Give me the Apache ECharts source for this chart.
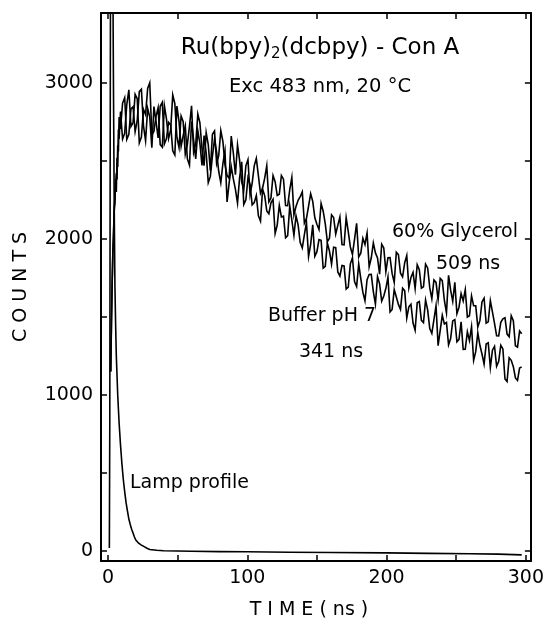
<!DOCTYPE html>
<html>
<head>
<meta charset="utf-8">
<script src="https://cdn.jsdelivr.net/npm/echarts@6/dist/echarts.min.js"></script>
<style>html,body{margin:0;padding:0;background:#fff}#c{width:547px;height:625px}</style>
</head>
<body>
<div id="c"></div>
<script>
// ---- data ----
const decayTime = [2,2.5,3,3.5,4,4.5,5,5.5,6,6.5,7,7.5,8,
  9,10.5,12,13.5,15,16.5,18,19.5,21,22.5,24,25.5,27,28.5,30,31.5,33,34.5,36,37.5,39,40.5,42,43.5,45,46.5,48,49.5,
  51,52.5,54,55.5,57,58.5,60,61.5,63,64.5,66,67.5,69,70.5,72,73.5,75,76.5,78,79.5,81,82.5,84,85.5,87,88.5,90,91.5,93,94.5,96,97.5,99,100.5,
  102,103.5,105,106.5,108,109.5,111,112.5,114,115.5,117,118.5,120,121.5,123,124.5,126,127.5,129,130.5,132,133.5,135,136.5,138,139.5,141,142.5,144,145.5,147,148.5,150,151.5,
  153,154.5,156,157.5,159,160.5,162,163.5,165,166.5,168,169.5,171,172.5,174,175.5,177,178.5,180,181.5,183,184.5,186,187.5,189,190.5,192,193.5,195,196.5,198,199.5,
  201,202.5,204,205.5,207,208.5,210,211.5,213,214.5,216,217.5,219,220.5,222,223.5,225,226.5,228,229.5,231,232.5,234,235.5,237,238.5,240,241.5,243,244.5,246,247.5,249,250.5,
  252,253.5,255,256.5,258,259.5,261,262.5,264,265.5,267,268.5,270,271.5,273,274.5,276,277.5,279,280.5,282,283.5,285,286.5,288,289.5,291,292.5,294,295.5,297];
const glycerolCounts = [1150,1480,1720,1900,2050,2180,2230,2380,2300,2520,2460,2700,2640,
  2815,2640,2676,2860,2955,2720,2744,2926,2898,2615,2652,2829,2796,2963,3000,2665,2690,2785,2840,2604,2588,2853,2768,2643,2698,2922,2867,2651,
  2585,2787,2750,2543,2606,2719,2852,2555,2608,2800,2743,2576,2469,2681,2604,2437,2670,2691,2482,2533,2694,2625,2476,2407,2388,2659,2550,2411,2602,2503,2364,2315,2468,2508,
  2284,2356,2468,2516,2404,2292,2325,2389,2469,2237,2261,2405,2366,2278,2286,2406,2382,2213,2212,2315,2394,2153,2208,2247,2270,2301,2100,2131,2210,2289,2240,2135,2094,2060,
  2227,2177,2096,1982,2004,2154,2137,2031,2086,2140,1963,1961,2136,2046,1948,1900,1996,2100,1884,1908,2004,1964,2037,1821,1877,1974,1910,1878,1774,1966,1942,1790,
  1879,1880,1777,1721,1914,1899,1780,1757,1846,1894,1687,1752,1785,1681,1834,1803,1684,1693,1838,1814,1687,1616,1737,1721,1610,1747,1732,1605,1526,1766,1671,1600,1721,1521,
  1562,1650,1602,1674,1499,1507,1635,1571,1571,1436,1476,1596,1620,1460,1468,1604,1532,1459,1379,1378,1465,1488,1495,1390,1373,1508,1476,1315,1306,1409,1392];
const bufferCounts = [1150,1450,1700,1920,2010,2200,2260,2350,2420,2380,2600,2560,2780,
  2705,2870,2904,2637,2670,2833,2846,2687,2757,2943,2958,2724,2629,2835,2780,2584,2848,2752,2646,2850,2874,2608,2642,2746,2730,2564,2538,2851,
  2753,2593,2663,2723,2512,2472,2752,2632,2512,2692,2611,2471,2661,2551,2360,2400,2530,2638,2555,2433,2360,2482,2564,2237,2359,2462,2384,2317,2229,2391,2494,2221,2250,2391,
  2348,2218,2232,2278,2148,2114,2319,2277,2179,2161,2231,2253,2034,2088,2214,2140,2145,2007,2021,2211,2120,2022,2148,2090,1976,1942,2027,2105,1887,1965,2090,1888,1918,1995,
  1991,1812,1824,1973,1922,1839,1947,1944,1788,1761,1829,1826,1678,1691,1840,1879,1726,1695,1840,1745,1658,1603,1739,1772,1773,1662,1582,1759,1712,1601,1634,1683,
  1755,1532,1548,1676,1628,1580,1548,1684,1668,1493,1565,1581,1461,1414,1590,1598,1478,1463,1608,1545,1425,1394,1483,1572,1316,1413,1510,1455,1464,1321,1361,1474,1483,1340,
  1356,1468,1292,1293,1405,1349,1437,1221,1277,1398,1318,1262,1198,1326,1334,1175,1287,1311,1183,1215,1319,1295,1102,1086,1238,1222,1181,1109,1093,1173,1180];
const lampTime = [1,1.3,1.6,2,2.5,3,3.5,4,4.5,5,5.5,6,7,8,9,10,11,12,13,14,15,16,17,18,19,20,22,24,26,28,30,35,40,50,60,80,100,130,160,200,230,260,280,297];
const lampCounts = [20,800,2600,4500,5200,4700,3700,2900,2200,1700,1450,1250,1000,820,680,560,460,380,310,255,205,170,140,115,90,70,50,38,28,18,10,5,2,0,-2,-4,-5,-8,-10,-12,-15,-18,-20,-25];
const xTickValues = [0,50,100,150,200,250,300];
const xLabelValues = [0,100,200,300];
const yTickValues = [0,500,1000,1500,2000,2500,3000];
const yLabelValues = [0,1000,2000,3000];

const zip = (a, b) => a.map((v, i) => [v, b[i]]);
const FONT = '"DejaVu Sans", sans-serif';
const X_MIN = -5, X_MAX = 303.6, Y_MIN = -64, Y_MAX = 3447;

const chart = echarts.init(document.getElementById('c'), null, {renderer: 'canvas'});

function axisCommon(showLabel, tickVals, labelVals) {
  return {
    axisLine: {show: true, onZero: false, lineStyle: {color: '#000', width: 2}},
    axisTick: {show: true, inside: true, length: 6, lineStyle: {color: '#000', width: 1.5}, customValues: tickVals},
    axisLabel: {show: showLabel, color: '#000', fontFamily: FONT, fontSize: 19, margin: 8,
      customValues: labelVals, formatter: v => String(v)},
    splitLine: {show: false}
  };
}

const lineSeries = (name, data, w) => ({
  name, type: 'line', data, showSymbol: false, symbol: 'none', clip: true,
  lineStyle: {color: '#000', width: w, join: 'miter'}, animation: false, silent: true
});

const txt = (text, x, y, size, align) => ({
  type: 'text', x, y, silent: true,
  style: {text, fill: '#000', font: size + 'px ' + FONT, textAlign: align || 'center', textVerticalAlign: 'middle'}
});

chart.setOption({
  backgroundColor: '#fff',
  animation: false,
  grid: {left: 101, top: 13, width: 432, height: 550, containLabel: false},
  xAxis: [
    Object.assign({type: 'value', position: 'bottom', min: X_MIN, max: X_MAX,
      name: 'T I M E ( ns )', nameLocation: 'middle', nameGap: 40,
      nameTextStyle: {color: '#000', fontFamily: FONT, fontSize: 19, padding: [0, 14, 0, 0]}},
      axisCommon(true, xTickValues, xLabelValues)),
    Object.assign({type: 'value', position: 'top', min: X_MIN, max: X_MAX},
      axisCommon(false, xTickValues, xLabelValues))
  ],
  yAxis: [
    Object.assign({type: 'value', position: 'left', min: Y_MIN, max: Y_MAX,
      name: 'C O U N T S', nameLocation: 'middle', nameGap: 70,
      nameTextStyle: {color: '#000', fontFamily: FONT, fontSize: 19}},
      axisCommon(true, yTickValues, yLabelValues)),
    Object.assign({type: 'value', position: 'right', min: Y_MIN, max: Y_MAX},
      axisCommon(false, yTickValues, yLabelValues))
  ],
  series: [
    lineSeries('Lamp profile', zip(lampTime, lampCounts), 1.6),
    lineSeries('Buffer pH 7', zip(decayTime, bufferCounts), 1.6),
    lineSeries('60% Glycerol', zip(decayTime, glycerolCounts), 1.6)
  ],
  graphic: [
    {type: 'text', x: 320, y: 48, silent: true,
      style: {text: '{a|Ru(bpy)}{s|2}{a|(dcbpy) - Con A}', fill: '#000', textAlign: 'center', textVerticalAlign: 'middle',
        rich: {a: {fontFamily: FONT, fontSize: 23, fill: '#000'}, s: {fontFamily: FONT, fontSize: 15, fill: '#000', padding: [12, 0, 0, 0]}}}},
    txt('Exc 483 nm, 20 °C', 320, 87, 19.5),
    txt('60% Glycerol', 455, 232, 19),
    txt('509 ns', 468, 264, 19),
    txt('Buffer pH 7', 322, 316, 19),
    txt('341 ns', 331, 352, 19),
    txt('Lamp profile', 130, 483, 19, 'left')
  ]
});
</script>
</body>
</html>
